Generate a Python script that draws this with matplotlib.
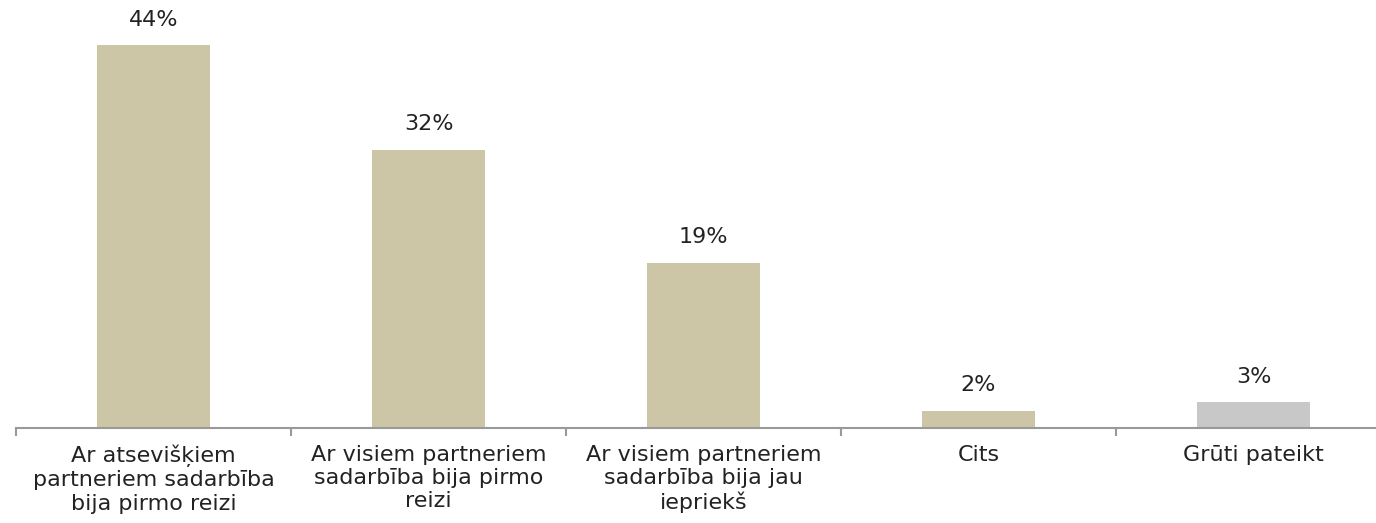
import matplotlib
matplotlib.use("Agg")
import numpy as np
import matplotlib.pyplot as plt

plt.rcParams['font.family'] = ['DejaVu Sans']

# data
categories = ["Ar atsevišķiem\npartneriem sadarbība\nbija pirmo reizi",
              "Ar visiem partneriem\nsadarbība bija pirmo\nreizi",
              "Ar visiem partneriem\nsadarbība bija jau\niepriekš",
              "Cits",
              "Grūti pateikt"]
values = [44, 32, 19, 2, 3]
bar_colors = ['#CCC6A6', '#CCC6A6', '#CCC6A6', '#CCC6A6', '#C8C8C8']

W, H = 1376, 523
fig = plt.figure(figsize=(W / 100, H / 100), dpi=100)
ax = fig.add_axes([16 / W, (H - 428) / H, 1375 / W, 428 / H])

x = np.arange(len(values))
bars = ax.bar(x, values, width=0.41, color=bar_colors, zorder=2)

for xi, v in zip(x, values):
    ax.annotate(f"{v}%", xy=(xi, v), xytext=(0, 11), textcoords='offset points',
                ha='center', va='bottom', fontsize=16, color='#222222')

ax.set_xlim(-0.5, len(values) - 0.5)
ax.set_ylim(0, 428 / 8.7)

for s in ['top', 'right', 'left']:
    ax.spines[s].set_visible(False)
ax.spines['bottom'].set_color('#999999')
ax.spines['bottom'].set_linewidth(1.5)
ax.set_yticks([])

ax.set_xticks(x)
ax.set_xticklabels(categories, fontsize=16, color='#222222', linespacing=1.2)
ax.tick_params(axis='x', which='major', length=0, pad=12)
ax.set_xticks(np.arange(-0.5, len(values)), minor=True)
ax.tick_params(axis='x', which='minor', length=6, width=1.5, color='#999999')

fig.savefig("out.png", dpi=100)
